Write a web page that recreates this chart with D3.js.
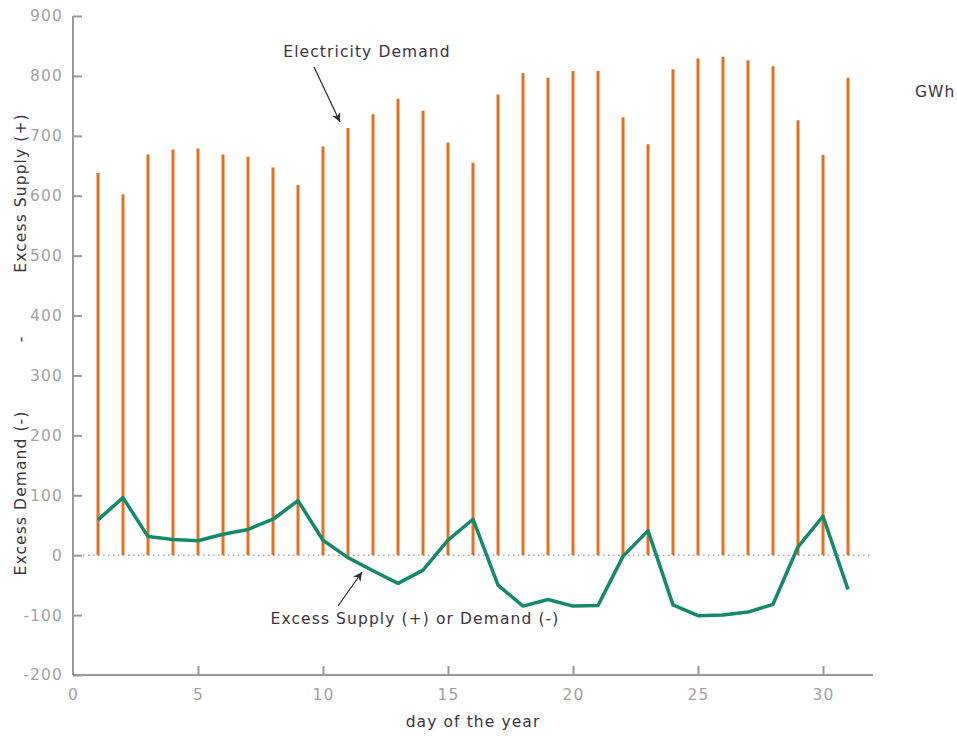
<!DOCTYPE html>
<html>
<head>
<meta charset="utf-8">
<script src="https://cdn.jsdelivr.net/npm/d3@7"></script>
<style>
  body { margin: 0; background: #fff; }
  svg { display: block; font-family: "DejaVu Sans", Verdana, sans-serif; }
  svg text { letter-spacing: 1.1px; }
</style>
</head>
<body>
<svg id="chart" width="957" height="736"></svg>
<script>
"use strict";

// daily electricity demand (GWh), days 1..31
var days = d3.range(1, 32);
var demand = [638, 602, 669, 677, 679, 669, 665, 647, 618, 682,
    713, 736, 762, 742, 689, 655, 769, 805, 797, 808,
    808, 731, 686, 811, 829, 832, 826, 816, 726, 668, 797];
// excess supply (+) or demand (-)
var excess = [59, 96, 31, 26, 24, 35, 43, 60, 91, 25,
    -4, -26, -47, -25, 25, 60, -50, -85, -74, -85,
    -84, -2, 41, -83, -101, -100, -95, -82, 14, 65, -57];
var xTicks = [0, 5, 10, 15, 20, 25, 30];
var yTicks = [-200, -100, 0, 100, 200, 300, 400, 500, 600, 700, 800, 900];

(function () {
    var svg = d3.select("#chart"),
        x = d3.scaleLinear().domain([0, 32]).range([73, 873]),
        y = d3.scaleLinear().domain([-200, 900]).range([675, 16]),
        fs = 15.5,
        tickCol = "#a3a3a3",
        axisCol = "#9a9a9a",
        textCol = "#3d3444";

    svg.append("defs").append("marker")
        .attr("id", "arrow")
        .attr("viewBox", "0 0 10 10")
        .attr("refX", 10).attr("refY", 5)
        .attr("markerWidth", 9).attr("markerHeight", 9)
        .attr("markerUnits", "userSpaceOnUse")
        .attr("orient", "auto")
        .append("path")
        .attr("d", "M0,0L10,5L0,10L3,5Z")
        .attr("fill", "#333");

    // zero line
    svg.append("line")
        .attr("x1", x(0) + 10).attr("x2", x(32) - 2)
        .attr("y1", y(0)).attr("y2", y(0))
        .attr("stroke", "#aaa")
        .attr("stroke-width", 1.5)
        .attr("stroke-dasharray", "1.5,3.5");

    // axes
    var yAxis = svg.append("g")
        .attr("transform", "translate(" + x(0) + ",0)")
        .call(d3.axisRight(y).tickValues(yTicks).tickSize(9).tickFormat(String));
    var xAxis = svg.append("g")
        .attr("transform", "translate(0," + y(-200) + ")")
        .call(d3.axisTop(x).tickValues(xTicks).tickSize(9).tickFormat(String));

    [yAxis, xAxis].forEach(function (g) {
        g.select(".domain").attr("stroke", axisCol).attr("stroke-width", 2);
        g.selectAll(".tick line").attr("stroke", axisCol).attr("stroke-width", 2);
        g.selectAll(".tick text")
            .attr("fill", tickCol)
            .attr("font-size", fs)
            .attr("font-family", "DejaVu Sans, Verdana, sans-serif");
    });
    yAxis.select(".domain").attr("d", "M0," + y(900) + "V" + y(-200));
    yAxis.selectAll(".tick text")
        .attr("x", -10)
        .attr("text-anchor", "end");
    xAxis.select(".domain").attr("d", "M" + x(0) + ",0H" + x(32));
    xAxis.selectAll(".tick text")
        .attr("y", 25)
        .attr("dy", 0)
        .attr("text-anchor", "middle");
    xAxis.selectAll(".tick").filter(function (d) { return d === 0; })
        .select("line").remove();

    // demand bars
    svg.append("g").selectAll("line")
        .data(days)
        .enter().append("line")
        .attr("x1", function (d) { return x(d); })
        .attr("x2", function (d) { return x(d); })
        .attr("y1", y(0))
        .attr("y2", function (d, i) { return y(demand[i]); })
        .attr("stroke", "#e8701c")
        .attr("stroke-width", 3);

    // excess line
    svg.append("path")
        .datum(excess)
        .attr("fill", "none")
        .attr("stroke", "#138a6b")
        .attr("stroke-width", 3.5)
        .attr("stroke-linejoin", "round")
        .attr("d", d3.line()
            .x(function (d, i) { return x(days[i]); })
            .y(function (d) { return y(d); }));

    // labels
    svg.append("text")
        .attr("x", x(16)).attr("y", 727)
        .attr("text-anchor", "middle")
        .attr("font-size", fs)
        .attr("fill", textCol)
        .text("day of the year");

    [["Excess Supply (+)", 193], ["-", 339], ["Excess Demand (-)", 493]].forEach(function (t) {
        svg.append("text")
            .attr("transform", "translate(26," + t[1] + ") rotate(-90)")
            .attr("text-anchor", "middle")
            .attr("font-size", fs)
            .attr("fill", textCol)
            .text(t[0]);
    });

    svg.append("text")
        .attr("x", 915).attr("y", 97)
        .attr("font-size", fs)
        .attr("fill", textCol)
        .text("GWh");

    // annotations
    svg.append("text")
        .attr("x", 367).attr("y", 57)
        .attr("text-anchor", "middle")
        .attr("font-size", fs)
        .attr("fill", textCol)
        .text("Electricity Demand");
    svg.append("line")
        .attr("x1", 314).attr("y1", 67)
        .attr("x2", 340).attr("y2", 122)
        .attr("stroke", "#333").attr("stroke-width", 1.3)
        .attr("marker-end", "url(#arrow)");

    svg.append("text")
        .attr("x", 415).attr("y", 624)
        .attr("text-anchor", "middle")
        .attr("font-size", fs)
        .attr("fill", textCol)
        .text("Excess Supply (+) or Demand (-)");
    svg.append("line")
        .attr("x1", 338).attr("y1", 606)
        .attr("x2", 362).attr("y2", 572)
        .attr("stroke", "#333").attr("stroke-width", 1.3)
        .attr("marker-end", "url(#arrow)");
}());
</script>
</body>
</html>
